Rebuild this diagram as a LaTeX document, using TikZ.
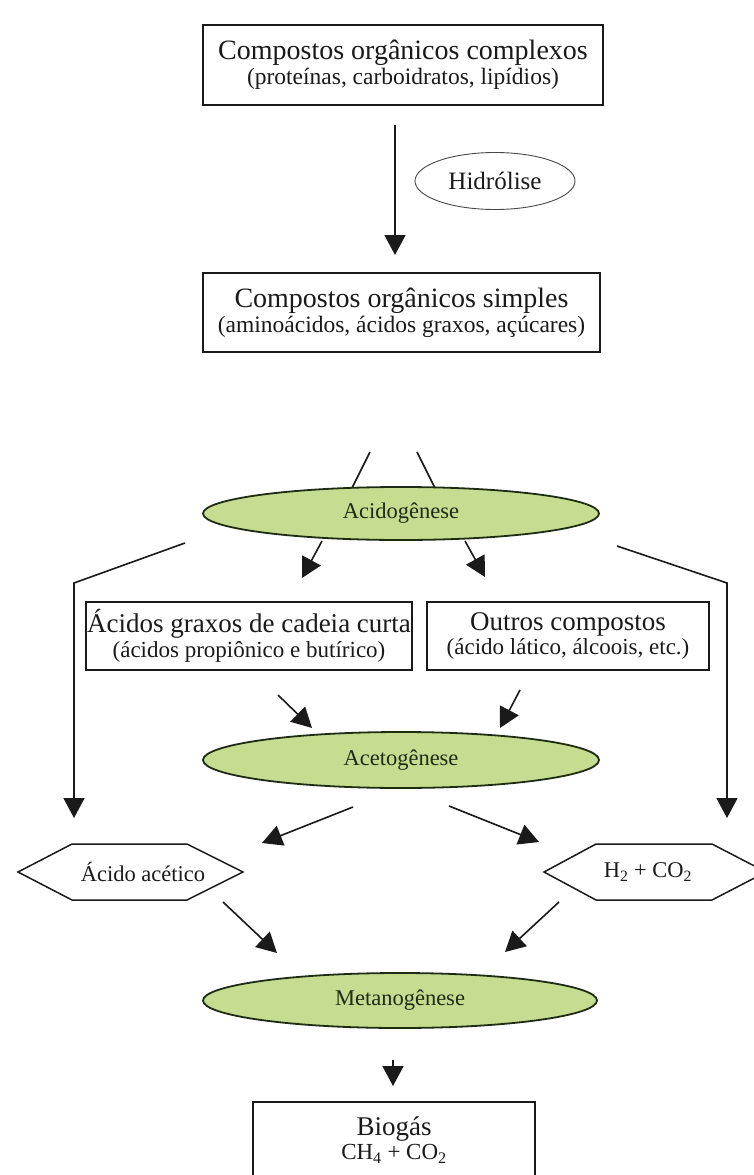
\documentclass[tikz,border=0pt]{standalone}
\usepackage{fontspec}
\setmainfont{Liberation Serif}
\usetikzlibrary{arrows.meta,shapes.geometric}
\definecolor{ink}{HTML}{1A1A1A}
\definecolor{lgreen}{RGB}{198,220,145}
\definecolor{dgreen}{HTML}{1F2C14}
\newcommand{\fs}[2]{\fontsize{#1}{#2}\selectfont}
\tikzset{
  box/.style={draw=ink, line width=1.8pt, fill=white, inner sep=0pt, align=center, text=ink},
  phase/.style={ellipse, draw=dgreen, line width=1.8pt, fill=lgreen, inner sep=0pt, text=dgreen, font=\fs{22.5}{24}},
  conn/.style={draw=ink, line width=1.6pt},
  arr/.style={conn, -{Triangle[length=20pt,width=21pt]}},
  hexa/.style={draw=ink, line width=1.5pt, line join=miter, fill=white},
  lbl/.style={inner sep=0pt, text=ink},
}
\begin{document}
\begin{tikzpicture}[x=1pt,y=-1pt]
\useasboundingbox[fill=white] (0,0) rectangle (754,1175);

% ---- top boxes
\node[box, minimum width=400pt, minimum height=80pt] (b1) at (403,65)
  {\fs{28}{30}Compostos orgânicos complexos\\[2pt]\fs{23.5}{24}(proteínas, carboidratos, lipídios)};
\node[ellipse, draw=ink!80, line width=0.9pt, fill=white, minimum width=160pt, minimum height=57pt, inner sep=0pt, text=ink, font=\fs{25}{26}] (hid) at (495,181) {Hidrólise};
\node[box, minimum width=397pt, minimum height=79pt] (b2) at (401.5,312.5)
  {\fs{28}{30}Compostos orgânicos simples\\[2pt]\fs{23.5}{24}(aminoácidos, ácidos graxos, açúcares)};

\coordinate (h1) at (395,125);
\coordinate (h2) at (395,255);
\draw[arr] (h1) -- (h2);

% ---- acidogenesis
\coordinate (s1) at (370,452);
\coordinate (s1e) at (352,488);
\coordinate (s2) at (417,452);
\coordinate (s2e) at (435,488);
\draw[conn] (s1) -- (s1e);
\draw[conn] (s2) -- (s2e);
\node[phase, minimum width=396pt, minimum height=53pt] (acid) at (401,513.5) {Acidogênese};

\node[box, minimum width=326pt, minimum height=68pt] (b3) at (249,636)
  {\fs{27}{28}Ácidos graxos de cadeia curta\\[2pt]\fs{23}{24}(ácidos propiônico e butírico)};
\node[box, minimum width=282pt, minimum height=68pt] (b4) at (568,636)
  {\fs{27}{28}Outros compostos\\[2pt]\fs{23}{24}(ácido lático, álcoois, etc.)};

\coordinate (a1) at (322,541); \coordinate (a1e) at (302,578);
\coordinate (a2) at (465,541); \coordinate (a2e) at (485,577);
\draw[arr] (a1) -- (a1e);
\draw[arr] (a2) -- (a2e);

\coordinate (l1) at (185,543); \coordinate (l2) at (74,583); \coordinate (l3) at (74,818);
\coordinate (r1) at (617,546); \coordinate (r2) at (727,583); \coordinate (r3) at (727,818);
\draw[arr, line join=miter] (l1) -- (l2) -- (l3);
\draw[arr, line join=miter] (r1) -- (r2) -- (r3);

% ---- acetogenesis
\coordinate (c1) at (278,695); \coordinate (c1e) at (312,728);
\coordinate (c2) at (520,690); \coordinate (c2e) at (500,728);
\draw[arr] (c1) -- (c1e);
\draw[arr] (c2) -- (c2e);
\node[phase, minimum width=396pt, minimum height=56pt] (acet) at (401,760) {Acetogênese};

% ---- hexagons
\draw[hexa] (18,872) -- (72,844) -- (187,844) -- (243,872) -- (187,900) -- (72,900) -- cycle;
\node[lbl, font=\fs{22.5}{24}] (hexA) at (143,872) {Ácido acético};
\draw[hexa] (544,872) -- (596,844) -- (712,844) -- (766,872) -- (712,900) -- (596,900) -- cycle;
\node[lbl, font=\fs{22.5}{24}] (hexH) at (648,872) {H\textsubscript{2} + CO\textsubscript{2}};

\coordinate (d1) at (353,807); \coordinate (d1e) at (262,843);
\coordinate (d2) at (449,806); \coordinate (d2e) at (539,842);
\draw[arr] (d1) -- (d1e);
\draw[arr] (d2) -- (d2e);

% ---- methanogenesis
\coordinate (e1) at (223,902); \coordinate (e1e) at (277,953);
\coordinate (e2) at (559,902); \coordinate (e2e) at (505,952);
\draw[arr] (e1) -- (e1e);
\draw[arr] (e2) -- (e2e);
\node[phase, minimum width=394pt, minimum height=55pt] (meta) at (400,1000.5) {Metanogênese};

\coordinate (f1) at (393,1060); \coordinate (f1e) at (393,1086);
\draw[arr] (f1) -- (f1e);

\node[box, minimum width=282pt, minimum height=76pt] (bio) at (394,1140)
  {\fs{27}{28}Biogás\\[2pt]\fs{23}{24}CH\textsubscript{4} + CO\textsubscript{2}};
\end{tikzpicture}
\end{document}
